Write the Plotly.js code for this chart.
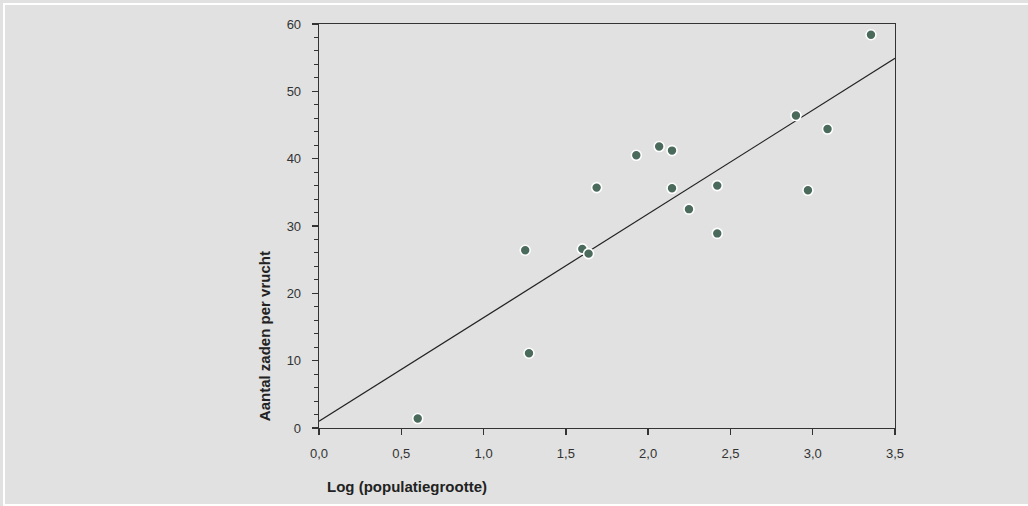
<!DOCTYPE html>
<html>
<head>
<meta charset="utf-8">
<script src="https://cdn.plot.ly/plotly-3.0.1.min.js"></script>
<style>
html,body{margin:0;padding:0;background:#e0e1e0;overflow:hidden;}
#chart{width:1028px;height:506px;position:absolute;left:0;top:0;}
#frame{position:absolute;left:3px;top:3px;width:1040px;height:499px;border:2px solid #ffffff;pointer-events:none;}
</style>
</head>
<body>
<div id="chart"></div>
<div id="frame"></div>
<script>
// Data
const logPop = [0.60, 1.276, 1.253, 1.60, 1.638, 1.687, 1.928, 2.067, 2.145, 2.145, 2.248, 2.42, 2.42, 2.898, 2.971, 3.09, 3.354];
const seeds  = [1.4, 11.1, 26.4, 26.6, 25.9, 35.7, 40.5, 41.8, 41.2, 35.6, 32.5, 36.0, 28.9, 46.4, 35.3, 44.4, 58.4];
const fitX = [0, 3.5];
const fitY = [1.0, 54.9];
const xTickVals = [0, 0.5, 1.0, 1.5, 2.0, 2.5, 3.0, 3.5];
const yTickVals = [0, 10, 20, 30, 40, 50, 60];
const xTitle = "Log (populatiegrootte)";
const yTitle = "Aantal zaden per vrucht";

const axisColor = '#333333';
const tickFont = {family: 'Liberation Sans Narrow, Liberation Sans, Arial, sans-serif', size: 13, color: '#333333'};

const traces = [
  {
    x: fitX, y: fitY, type: 'scatter', mode: 'lines',
    line: {color: '#222222', width: 1.2}, hoverinfo: 'skip', showlegend: false
  },
  {
    x: logPop, y: seeds, type: 'scatter', mode: 'markers',
    marker: {color: '#4a6a5c', size: 10, line: {color: '#ffffff', width: 1.6}},
    showlegend: false
  }
];

const layout = {
  width: 1028, height: 506,
  paper_bgcolor: 'rgba(0,0,0,0)', plot_bgcolor: 'rgba(0,0,0,0)',
  margin: {l: 319, r: 133, t: 24, b: 78},
  separators: ',.',
  showlegend: false,
  xaxis: {
    range: [0, 3.5], tickvals: xTickVals, tickformat: '.1f',
    ticks: 'outside', ticklen: 6, tickwidth: 1.3, tickcolor: axisColor,
    showline: true, linecolor: axisColor, linewidth: 1.3, mirror: true,
    showgrid: false, zeroline: false, tickfont: tickFont, ticklabelstandoff: 7
  },
  yaxis: {
    range: [0, 60], tickvals: yTickVals,
    ticks: 'outside', ticklen: 6, tickwidth: 1.3, tickcolor: axisColor,
    minor: {dtick: 2, tick0: 0, ticks: 'outside', ticklen: 4, tickwidth: 1.1, tickcolor: axisColor, showgrid: false},
    showline: true, linecolor: axisColor, linewidth: 1.3, mirror: true,
    showgrid: false, zeroline: false, tickfont: tickFont, ticklabelstandoff: 8
  },
  annotations: [
    {
      text: '<b>' + xTitle + '</b>', xref: 'paper', yref: 'paper',
      x: (407 - 319) / 576, y: -(486 - 427.7) / 403.4, xanchor: 'center', yanchor: 'middle',
      showarrow: false, font: {family: 'Liberation Sans, Arial, sans-serif', size: 15, color: '#222222'}
    },
    {
      text: '<b>' + yTitle + '</b>', xref: 'paper', yref: 'paper',
      x: -(319 - 264) / 576, y: (427.7 - 336) / 403.4, xanchor: 'center', yanchor: 'middle',
      textangle: -90, showarrow: false,
      font: {family: 'Liberation Sans, Arial, sans-serif', size: 15, color: '#222222'}
    }
  ]
};

Plotly.newPlot('chart', traces, layout, {displayModeBar: false, staticPlot: true});
</script>
</body>
</html>
